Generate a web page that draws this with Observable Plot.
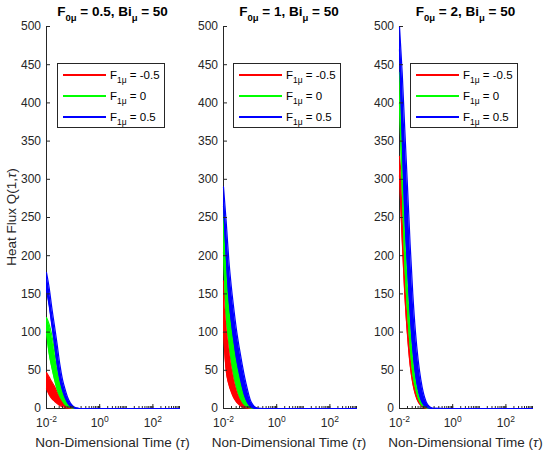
<!DOCTYPE html>
<html><head><meta charset="utf-8">
<script src="https://cdn.jsdelivr.net/npm/d3@7"></script>
<script src="https://cdn.jsdelivr.net/npm/@observablehq/plot@0.6"></script>
<style>
body{margin:0;background:#fff;font-family:"Liberation Sans",Arial,Helvetica,sans-serif;}
#wrap{position:relative;width:550px;height:456px;overflow:hidden;background:#fff;}
.panel{position:absolute;top:0;}
.title{position:absolute;top:4px;font-weight:bold;font-size:13.5px;line-height:16px;color:#000;white-space:nowrap;transform:translateX(-50%);}
.sub{font-size:9.5px;position:relative;top:5px;}
.xlabel{position:absolute;top:435px;font-size:13.5px;line-height:16px;color:#262626;white-space:nowrap;transform:translateX(-50%);}
.ylabel{position:absolute;left:-88px;top:209px;width:200px;height:16px;line-height:16px;text-align:center;font-size:13.5px;color:#262626;transform:rotate(-90deg);white-space:nowrap;}
.legend{position:absolute;top:63px;width:106px;height:63px;border:1px solid #262626;background:#fff;}
.lline{position:absolute;left:5px;width:43px;height:2px;}
.ltext{position:absolute;left:52px;font-size:11.5px;line-height:12px;color:#000;white-space:nowrap;}
.lsub{font-size:8.5px;position:relative;top:3.5px;}
</style>
</head><body>
<div id="wrap"></div>
<script>
// ---- data ----
const tau = [0.01, 0.0126, 0.0158, 0.02, 0.0251, 0.0316, 0.0398, 0.0501, 0.0631, 0.0794, 0.1, 0.126, 0.158, 0.2, 0.5, 1, 10, 100, 1000];
const yTicks = [0, 50, 100, 150, 200, 250, 300, 350, 400, 450, 500];
const xTicks = [0.01, 1, 100];
const xTickLabels = ["10^-2", "10^0", "10^2"];
const f0Values = ["0.5", "1", "2"];
const biValue = "50";
const f1Values = ["-0.5", "0", "0.5"];
const seriesColors = ["#ff0000", "#00ff00", "#0000ff"];

// panel 1 : F0 = 0.5
const p1RedHi   = [47, 41, 35, 29, 22, 15, 10, 6, 3.5, 2, 1, 0.3, 0, 0, 0, 0, 0, 0, 0];
const p1RedLo   = [26, 18, 13, 9.5, 6.5, 4, 2.5, 1.2, 0.5, 0.2, 0, 0, 0, 0, 0, 0, 0, 0, 0];
const p1GreenHi = [119, 110, 96, 76, 56, 38, 24, 15, 8, 4, 1.5, 0.4, 0, 0, 0, 0, 0, 0, 0];
const p1GreenLo = [100, 72, 54, 38, 25, 16, 10, 5, 2.5, 1, 0.3, 0, 0, 0, 0, 0, 0, 0, 0];
const p1BlueHi  = [178, 158, 132, 108, 84, 58, 38, 25, 14, 7, 3, 1, 0.3, 0, 0, 0, 0, 0, 0];
const p1BlueLo  = [155, 135, 110, 84, 58, 38, 24, 14, 7, 3, 1, 0.2, 0, 0, 0, 0, 0, 0, 0];
// panel 2 : F0 = 1
const p2RedHi   = [167, 118, 85, 58, 39, 25, 15, 9, 5, 2.5, 1, 0.3, 0, 0, 0, 0, 0, 0, 0];
const p2RedLo   = [100, 50, 32, 21, 13, 8, 4.5, 2, 1, 0.3, 0, 0, 0, 0, 0, 0, 0, 0, 0];
const p2GreenHi = [268, 215, 160, 120, 90, 66, 46, 30, 18, 9, 4, 1, 0, 0, 0, 0, 0, 0, 0];
const p2GreenLo = [205, 125, 90, 62, 42, 27, 16, 9, 4.5, 2, 0.7, 0, 0, 0, 0, 0, 0, 0, 0];
const p2BlueHi  = [290, 245, 195, 157, 127, 100, 78, 58, 40, 25, 12, 5, 1.5, 0.3, 0, 0, 0, 0, 0];
const p2BlueLo  = [265, 200, 146, 112, 86, 63, 45, 29, 16, 8, 3, 0.8, 0, 0, 0, 0, 0, 0, 0];
// panel 3 : F0 = 2
const p3RedHi   = [330, 285, 192, 127, 81, 46, 27, 14, 6, 2.5, 1, 0, 0, 0, 0, 0, 0, 0, 0];
const p3RedLo   = [305, 222, 150, 96, 57, 33, 18, 9, 4, 1.5, 0.3, 0, 0, 0, 0, 0, 0, 0, 0];
const p3GreenHi = [440, 345, 250, 180, 122, 76, 44, 24, 12, 5, 2, 0.5, 0, 0, 0, 0, 0, 0, 0];
const p3GreenLo = [400, 290, 193, 128, 82, 46, 27, 14, 6, 2.5, 1, 0, 0, 0, 0, 0, 0, 0, 0];
const p3BlueHi  = [500, 440, 365, 290, 215, 150, 100, 64, 38, 20, 9, 3.5, 1, 0.2, 0, 0, 0, 0, 0];
const p3BlueLo  = [470, 355, 255, 185, 125, 78, 45, 25, 12, 5, 2, 0.5, 0, 0, 0, 0, 0, 0, 0];

const panelSeries = [
  [[p1RedLo, p1RedHi], [p1GreenLo, p1GreenHi], [p1BlueLo, p1BlueHi]],
  [[p2RedLo, p2RedHi], [p2GreenLo, p2GreenHi], [p2BlueLo, p2BlueHi]],
  [[p3RedLo, p3RedHi], [p3GreenLo, p3GreenHi], [p3BlueLo, p3BlueHi]]
];

// ---- layout ----
const panelLeft = [46, 222.5, 399];
const PW = 133, ML = 40, MR = 12;
const axisColor = "#262626";
const wrap = document.getElementById("wrap");

function makePanel(series) {
  const marks = [
    Plot.ruleX([0.01], {stroke: axisColor, strokeWidth: 1}),
    Plot.ruleY([0], {stroke: axisColor, strokeWidth: 1})
  ];
  series.forEach(([lo, hi], i) => {
    const data = tau.map((t, j) => ({tau: t, lo: lo[j], hi: hi[j]}));
    marks.push(Plot.areaY(data, {x: "tau", y1: "lo", y2: "hi", fill: seriesColors[i], curve: "monotone-x"}));
    marks.push(Plot.lineY(data, {x: "tau", y: "hi", stroke: seriesColors[i], strokeWidth: 1.2, curve: "monotone-x"}));
    marks.push(Plot.lineY(data, {x: "tau", y: "lo", stroke: seriesColors[i], strokeWidth: 1.2, curve: "monotone-x"}));
  });
  marks.push(Plot.axisY({ticks: yTicks, tickSize: -4, tickPadding: 9.5, label: null, tickFormat: d => String(d)}));
  marks.push(Plot.axisX({ticks: 40, tickSize: -2, tickFormat: () => "", label: null}));
  marks.push(Plot.axisX({ticks: xTicks, tickSize: -4, tickPadding: 14, label: null,
    tickFormat: d => xTickLabels[xTicks.indexOf(d)]}));
  return Plot.plot({
    width: ML + PW + MR, height: 456,
    marginLeft: ML, marginRight: MR, marginTop: 26, marginBottom: 48,
    x: {type: "log", domain: [0.01, 1000]},
    y: {domain: [0, 500]},
    style: {fontSize: "12px", fontFamily: '"Liberation Sans", Arial, sans-serif', color: axisColor, background: "transparent", overflow: "visible"},
    marks
  });
}

panelSeries.forEach((series, p) => {
  const svg = makePanel(series);
  svg.querySelectorAll('g[aria-label="x-axis tick label"] text').forEach(t => {
    const s = t.textContent;
    if (s.includes("^")) {
      const [base, exp] = s.split("^");
      t.textContent = "";
      const ns = "http://www.w3.org/2000/svg";
      const a = document.createElementNS(ns, "tspan"); a.textContent = base;
      const b = document.createElementNS(ns, "tspan"); b.textContent = exp;
      b.setAttribute("dy", "-5"); b.setAttribute("font-size", "8.5");
      t.appendChild(a); t.appendChild(b);
    }
  });
  const div = document.createElement("div");
  div.className = "panel";
  div.style.left = (panelLeft[p] - ML) + "px";
  div.appendChild(svg);
  wrap.appendChild(div);

  const cx = panelLeft[p] + PW / 2;
  const title = document.createElement("div");
  title.className = "title";
  title.style.left = cx + "px";
  title.innerHTML = `F<span class="sub">0μ</span> = ${f0Values[p]}, Bi<span class="sub">μ</span> = ${biValue}`;
  wrap.appendChild(title);

  const xl = document.createElement("div");
  xl.className = "xlabel";
  xl.style.left = cx + "px";
  xl.innerHTML = `Non-Dimensional Time (<i>τ</i>)`;
  wrap.appendChild(xl);

  const lg = document.createElement("div");
  lg.className = "legend";
  lg.style.left = Math.round(panelLeft[p] + 10.5) + "px";
  const rowY = [10, 31, 52];
  f1Values.forEach((v, i) => {
    const ln = document.createElement("div");
    ln.className = "lline";
    ln.style.top = rowY[i] + "px";
    ln.style.backgroundColor = seriesColors[i];
    lg.appendChild(ln);
    const tx = document.createElement("div");
    tx.className = "ltext";
    tx.style.top = (rowY[i] - 5) + "px";
    tx.innerHTML = `F<span class="lsub">1μ</span> = ${v}`;
    lg.appendChild(tx);
  });
  wrap.appendChild(lg);
});

const yl = document.createElement("div");
yl.className = "ylabel";
yl.innerHTML = `Heat Flux Q(1,<i>τ</i>)`;
wrap.appendChild(yl);
</script>
</body></html>
